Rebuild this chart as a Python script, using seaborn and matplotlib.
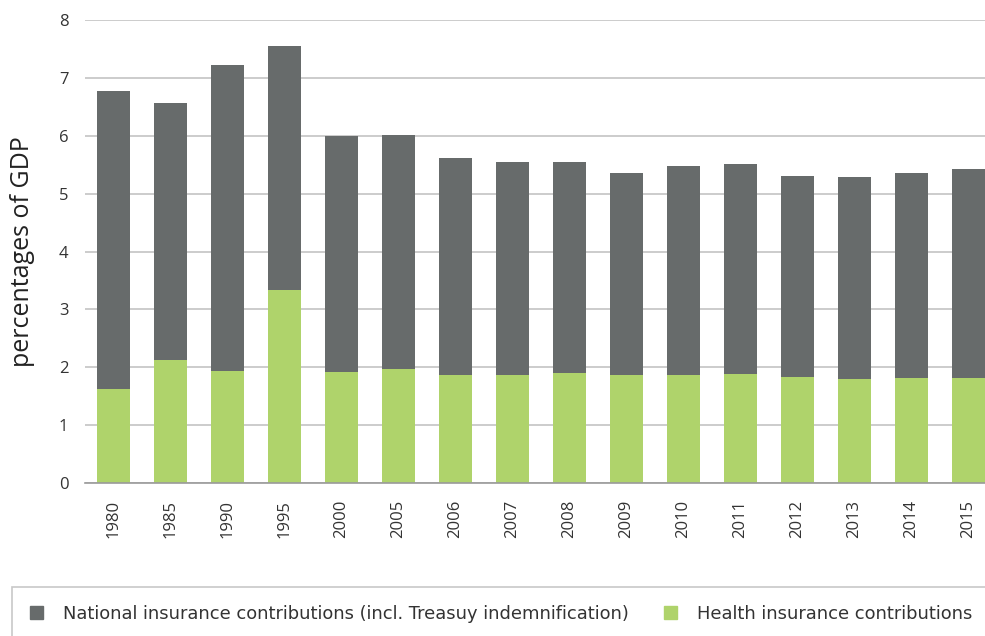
import numpy as np
import pandas as pd
import matplotlib.pyplot as plt
import matplotlib.patches as mpatches
from matplotlib.font_manager import FontProperties
import seaborn as sns

years = ["1980", "1985", "1990", "1995", "2000", "2005", "2006", "2007",
         "2008", "2009", "2010", "2011", "2012", "2013", "2014", "2015"]
health = [1.62, 2.12, 1.93, 3.33, 1.92, 1.97, 1.86, 1.87,
          1.90, 1.87, 1.87, 1.88, 1.83, 1.80, 1.82, 1.82]
national = [5.15, 4.45, 5.29, 4.22, 4.08, 4.05, 3.76, 3.67,
            3.64, 3.48, 3.60, 3.64, 3.48, 3.49, 3.54, 3.60]

DARK = "#676b6b"
GREEN = "#afd36b"

df = pd.DataFrame({"year": years, "health": health, "national": national})
df["total"] = df["health"] + df["national"]

sns.set_style("white")
plt.rcParams["font.family"] = ["Open Sans", "DejaVu Sans"]

fig = plt.figure(figsize=(9.85, 6.36), dpi=100)
ax = fig.add_axes([85 / 985, 1 - 483 / 636, 900 / 985, (483 - 20) / 636])

sns.barplot(data=df, x="year", y="total", color=DARK, width=0.58,
            saturation=1, linewidth=0, edgecolor="none", ax=ax, zorder=3)
sns.barplot(data=df, x="year", y="health", color=GREEN, width=0.58,
            saturation=1, linewidth=0, edgecolor="none", ax=ax, zorder=4)

ax.set_ylim(0, 8)
ax.set_xlim(-0.5, 15.29)
ax.set_yticks(range(0, 9))
ax.yaxis.grid(True, color="#c4c4c4", linewidth=1.2, zorder=0)
ax.set_axisbelow(True)
for s in ["top", "right", "left"]:
    ax.spines[s].set_visible(False)
ax.spines["bottom"].set_color("#9a9a9a")
ax.spines["bottom"].set_linewidth(1.2)
ax.spines["bottom"].set_zorder(5)

ax.tick_params(axis="y", length=0, labelsize=12, labelcolor="#333333", pad=12)
ax.tick_params(axis="x", length=0, labelsize=12, labelcolor="#333333",
               rotation=90, pad=12)
ax.set_xlabel("")
ax.set_ylabel("percentages of GDP", fontsize=18, color="#222222", labelpad=17)

# legend box (top and left border only)
fig.patches.append(mpatches.Rectangle((12 / 985, -0.05), 1.1, 0.05 + 1 - 587 / 636,
                                      transform=fig.transFigure, fill=False,
                                      edgecolor="#c8c8c8", linewidth=1.2))
handles = [mpatches.Patch(color=DARK, label="National insurance contributions (incl. Treasuy indemnification)"),
           mpatches.Patch(color=GREEN, label="Health insurance contributions")]
legend_font = FontProperties(family="DejaVu Sans", size=12.9)
fig.legend(handles=handles, loc="center left", bbox_to_anchor=(30 / 985, 1 - 614 / 636),
           ncol=2, frameon=False, borderpad=0, borderaxespad=0,
           handlelength=0.72, handleheight=0.72,
           handletextpad=1.1, columnspacing=2.0, prop=legend_font,
           labelcolor="#333333")

fig.savefig("out.png", dpi=100)
